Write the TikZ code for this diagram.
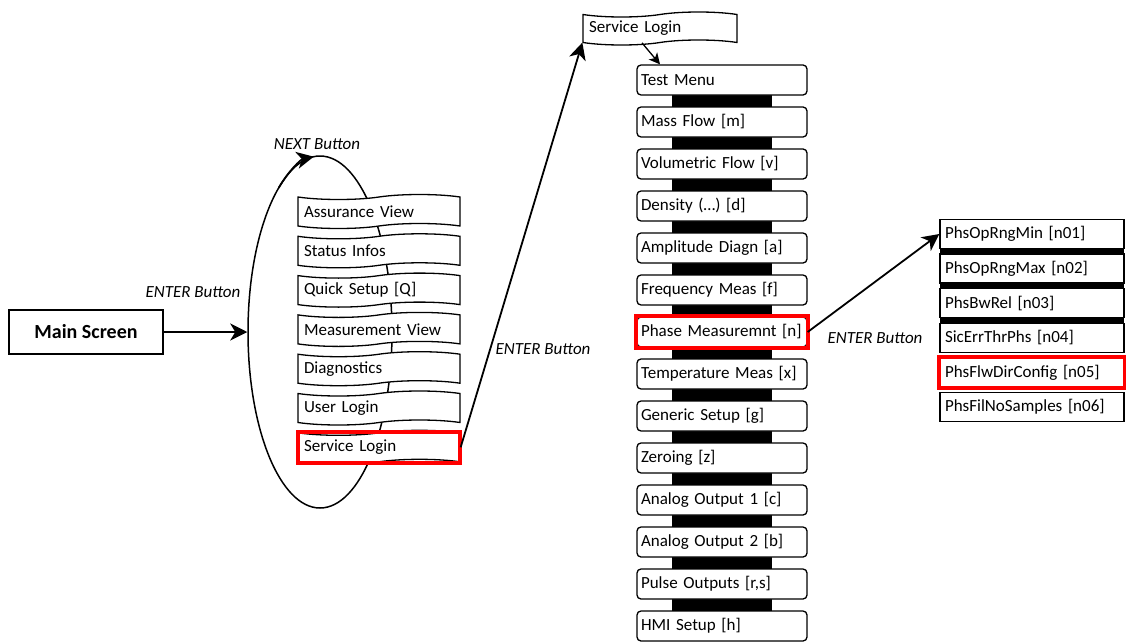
\documentclass[tikz,border=0pt]{standalone}
\usepackage{fontspec}
\setmainfont{Carlito}
\usetikzlibrary{arrows.meta,shapes.symbols,shapes.geometric}
\tikzset{
  flow/.style={line width=1.8pt,-{Stealth[length=17pt,width=17pt,inset=5pt]}},
  lbl/.style={font=\fontsize{17pt}{20pt}\itshape},
  tapebox/.style={tape,draw,fill=white,line width=1.3pt,text width=150pt,inner xsep=6pt,align=left,minimum height=34pt,tape bend height=5pt},
  menubox/.style={draw,fill=white,rounded corners=4pt,line width=1.3pt,text width=162pt,inner xsep=4pt,align=left,minimum height=30pt},
  parbox/.style={draw,fill=white,line width=1.3pt,text width=174pt,inner xsep=5pt,align=left,minimum height=29pt},
  hilite/.style={draw=red,line width=4pt},
  loopring/.style={ellipse,draw,line width=1.5pt,minimum width=144pt,minimum height=352pt,inner sep=0pt}
}
\begin{document}
\begin{tikzpicture}[x=1pt,y=-1pt,font=\fontsize{17pt}{20pt}\selectfont]
\useasboundingbox (0,0) rectangle (1126,642);
% main screen and the NEXT loop
\node[draw,line width=1.5pt,minimum width=154pt,minimum height=44pt,font=\fontsize{20pt}{24pt}\bfseries] (main) at (86,332) {Main Screen};
\node[loopring] (loop) at (320,332) {};
\draw[flow] (loop.center) ++(235:72 and 176) arc[start angle=235,end angle=265,x radius=72,y radius=176];
\node[lbl] (next) at (317,144) {NEXT Button};
\node[lbl] (enter1) at (193,292) {ENTER Button};
\draw[flow] (main.east) -- (loop.west);
\foreach \txt [count=\i] in {{Assurance View},{Status Infos},{Quick Setup [Q]},{Measurement View},{Diagnostics},{User Login},{Service Login}}{\node[tapebox] (s\i) at (379,{211.5+(\i-1)*39.3}) {\txt};}
\draw[hilite] (298,432) rectangle (460,463);
% service menu
\node[tapebox,text width=142pt,minimum height=33pt] (svctop) at (660,28.5) {Service Login};
\node[lbl] (enter2) at (543,349) {ENTER Button};
\draw[flow] (s7.east) -- (svctop.south west);
\fill (672,80) rectangle (772,627);
\foreach \txt [count=\i] in {{Test Menu},{Mass Flow [m]},{Volumetric Flow [v]},{Density (…) [d]},{Amplitude Diagn [a]},{Frequency Meas [f]},{Phase Measuremnt [n]},{Temperature Meas [x]},{Generic Setup [g]},{Zeroing [z]},{Analog Output 1 [c]},{Analog Output 2 [b]},{Pulse Outputs [r,s]},{HMI Setup [h]}}{\node[menubox] (m\i) at (722,{80+(\i-1)*42}) {\txt};}
\draw[hilite] (m7.north west) rectangle (m7.south east);
\draw[line width=1.3pt,-{Stealth[length=11pt,width=11pt,inset=3pt]}] ([xshift=-18pt]svctop.south) -- ([xshift=-62pt]m1.north);
% phase parameters
\node[lbl] (enter3) at (875,338) {ENTER Button};
\fill (940,234) rectangle (1124,338);
\foreach \txt [count=\i] in {{PhsOpRngMin [n01]},{PhsOpRngMax [n02]},{PhsBwRel [n03]},{SicErrThrPhs [n04]},{PhsFlwDirConfig [n05]},{PhsFilNoSamples [n06]}}{\node[parbox] (p\i) at (1032,{234+(\i-1)*34.6}) {\txt};}
\draw[hilite] (p5.north west) rectangle (p5.south east);
\draw[flow] (m7.east) -- (p1.west);
\end{tikzpicture}
\end{document}
